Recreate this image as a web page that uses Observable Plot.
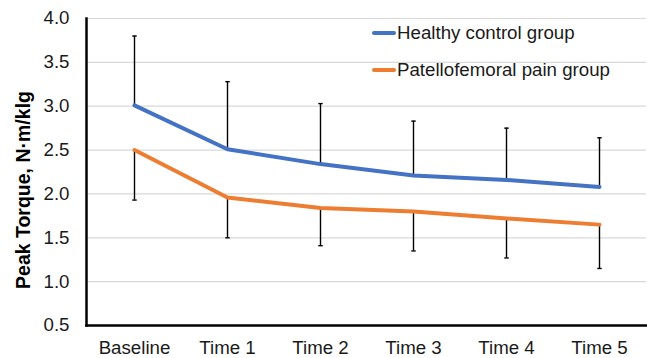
<!DOCTYPE html>
<html>
<head>
<meta charset="utf-8">
<script src="https://cdn.jsdelivr.net/npm/d3@7"></script>
<script src="https://cdn.jsdelivr.net/npm/@observablehq/plot@0.6"></script>
<style>
  html, body { margin: 0; padding: 0; background: #fff; }
  #wrap { position: relative; width: 647px; height: 358px; font-family: "Liberation Sans", Arial, sans-serif; }
  #legend { position: absolute; left: 372px; top: 14px; font-size: 18.7px; color: #1a1a1a; }
  .item { display: flex; align-items: center; height: 37px; white-space: nowrap; }
  .sw { display: inline-block; width: 24px; height: 4px; border-radius: 2px; margin-right: 1px; }
</style>
</head>
<body>
<div id="wrap">
  <div id="chart"></div>
  <div id="legend"></div>
</div>
<script>
const times = ["Baseline", "Time 1", "Time 2", "Time 3", "Time 4", "Time 5"];
const seriesNames = ["Healthy control group", "Patellofemoral pain group"];
const seriesColors = ["#4472C4", "#ED7D31"];
const healthyMean = [3.01, 2.51, 2.34, 2.21, 2.16, 2.08];
const healthyUpper = [3.80, 3.28, 3.03, 2.83, 2.75, 2.64];
const painMean = [2.50, 1.96, 1.84, 1.80, 1.72, 1.65];
const painLower = [1.93, 1.50, 1.41, 1.35, 1.27, 1.15];
const yTicks = [0.5, 1.0, 1.5, 2.0, 2.5, 3.0, 3.5, 4.0];
const yTitle = "Peak Torque, N·m/klg";

const data = [];
times.forEach((t, i) => {
  data.push({time: t, series: seriesNames[0], value: healthyMean[i], err: healthyUpper[i]});
  data.push({time: t, series: seriesNames[1], value: painMean[i], err: painLower[i]});
});

const cap = { draw(ctx, size) { const r = Math.sqrt(size / Math.PI); ctx.moveTo(-r, 0); ctx.lineTo(r, 0); } };

const chart = Plot.plot({
  width: 647,
  height: 358,
  marginLeft: 86,
  marginRight: 1,
  marginTop: 18,
  marginBottom: 33,
  style: { fontFamily: "Liberation Sans, Arial, sans-serif", fontSize: "18.7px", color: "#1a1a1a", background: "#fff" },
  x: { type: "point", domain: times, padding: 0.5, label: null },
  y: { domain: [0.5, 4], label: null },
  color: { domain: seriesNames, range: seriesColors },
  marks: [
    Plot.ruleY(yTicks.slice(1), { stroke: "#d9d9d9", strokeWidth: 1.2 }),
    Plot.axisY({ ticks: yTicks, tickFormat: d => d.toFixed(1), tickSize: 0, tickPadding: 17, fontSize: 18.7, label: null }),
    Plot.axisX({ tickSize: 0, tickPadding: 15, fontSize: 18.7, label: null }),
    Plot.text([yTitle], { frameAnchor: "left", dx: -63, dy: 18, rotate: -90, textAnchor: "middle", fontWeight: "bold", fontSize: 19.5, fill: "#000" }),
    Plot.ruleX(data, { x: "time", y1: "value", y2: "err", stroke: "#000", strokeWidth: 1.4 }),
    Plot.dot(data, { x: "time", y: "err", symbol: cap, r: 2.2, stroke: "#000", strokeWidth: 1.4, fill: "none" }),
    Plot.line(data, { x: "time", y: "value", z: "series", stroke: "series", strokeWidth: 4, strokeLinecap: "round", strokeLinejoin: "round" }),
    Plot.frame({ anchor: "left", stroke: "#000", strokeWidth: 2.5 }),
    Plot.frame({ anchor: "bottom", stroke: "#000", strokeWidth: 2.5 })
  ]
});
document.getElementById("chart").appendChild(chart);

const legend = document.getElementById("legend");
seriesNames.forEach((name, i) => {
  const item = document.createElement("div");
  item.className = "item";
  const sw = document.createElement("span");
  sw.className = "sw";
  sw.style.background = seriesColors[i];
  item.appendChild(sw);
  item.appendChild(document.createTextNode(name));
  legend.appendChild(item);
});
</script>
</body>
</html>
